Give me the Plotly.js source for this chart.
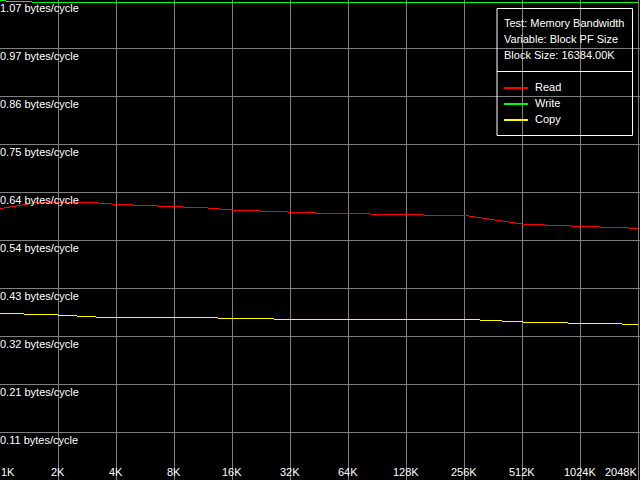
<!DOCTYPE html>
<html>
<head>
<meta charset="utf-8">
<script src="https://cdn.plot.ly/plotly-3.0.1.min.js"></script>
<style>
html,body{margin:0;padding:0;background:#000;}
#chart{width:640px;height:480px;}
#chart .scatterlayer path { shape-rendering: crispEdges; }
</style>
</head>
<body>
<div id="chart"></div>
<script>
// Block sizes in KB
var sizesKB = [1,1.5,2,3,4,6,8,12,16,24,32,48,64,96,128,192,256,384,512,768,1024,1536,2048];
// Bandwidth (bytes/cycle)
var readVals  = [0.6067,0.6195,0.6211,0.6204,0.6166,0.6139,0.6117,0.6083,0.6038,0.6009,0.5982,0.5965,0.5958,0.5942,0.5922,0.5920,0.5920,0.5810,0.5725,0.5692,0.5674,0.5651,0.5629];
var writeVals = [1.0718,1.0688,1.0688,1.0688,1.0688,1.0688,1.0688,1.0688,1.0688,1.0688,1.0688,1.0688,1.0688,1.0688,1.0688,1.0688,1.0688,1.0688,1.0688,1.0688,1.0688,1.0688,1.0688];
var copyVals  = [0.3728,0.3706,0.3690,0.3650,0.3623,0.3634,0.3639,0.3627,0.3616,0.3601,0.3594,0.3594,0.3594,0.3594,0.3594,0.3594,0.3594,0.3560,0.3534,0.3516,0.3505,0.3489,0.3482];
// Tick labels
var xTickVals = [1,2,4,8,16,32,64,128,256,512,1024,2048];
var xTickText = ['1K','2K','4K','8K','16K','32K','64K','128K','256K','512K','1024K','2048K'];
var yTickVals = [0.10735,0.2147,0.32205,0.4294,0.53675,0.6441,0.75145,0.8588,0.96615,1.0735];
var yTickText = ['0.11','0.21','0.32','0.43','0.54','0.64','0.75','0.86','0.97','1.07'];
var yUnit = ' bytes/cycle';
var seriesNames = ['Read','Write','Copy'];
var seriesColors = ['#ff0000','#00ff00','#ffff00'];
var headerLines = ['Test: Memory Bandwidth','Variable: Block PF Size','Block Size: 16384.00K'];

var W = 640, H = 480;
function px(x){return x/W;}
function py(y){return 1 - y/H;}
var FONT = {family:'Liberation Sans, Arial, sans-serif', size:11, color:'#ffffff'};

var seriesVals = [readVals, writeVals, copyVals];
var traces = seriesVals.map(function(v,i){
  return {x:sizesKB, y:v, type:'scatter', mode:'lines', name:seriesNames[i],
          line:{color:seriesColors[i], width:1}, hoverinfo:'skip'};
});

var annotations = [];
var shapes = [];
// y labels
yTickVals.forEach(function(v,i){
  annotations.push({xref:'paper', yref:'y', x:0, y:v, xanchor:'left', yanchor:'top',
    text:yTickText[i]+yUnit, showarrow:false, font:FONT, xshift:-1, yshift:-1, borderpad:0});
});
// x labels
xTickVals.forEach(function(v,i){
  var anchor = i===0 ? 'left' : (i===xTickVals.length-1 ? 'right' : 'center');
  annotations.push({xref:'x', yref:'paper', x:Math.log10(v), y:0, xanchor:anchor, yanchor:'bottom',
    text:xTickText[i], showarrow:false, font:FONT, yshift:1, borderpad:0});
});
// legend box
shapes.push({type:'rect', xref:'paper', yref:'paper', x0:px(497), x1:px(632.5), y0:py(8.5), y1:py(135.5),
  line:{color:'#ffffff', width:1}, fillcolor:'rgba(0,0,0,0)', layer:'above'});
shapes.push({type:'line', xref:'paper', yref:'paper', x0:px(497), x1:px(632.5), y0:py(71.5), y1:py(71.5),
  line:{color:'#ffffff', width:1}, layer:'above'});
var headerY = [23.3, 39.3, 55.3];
headerLines.forEach(function(t,i){
  annotations.push({xref:'paper', yref:'paper', x:px(503), y:py(headerY[i]), xanchor:'left', yanchor:'middle',
    text:t, showarrow:false, font:FONT, borderpad:0});
});
var itemY = [87.5, 103.5, 119.5];
seriesNames.forEach(function(n,i){
  shapes.push({type:'line', xref:'paper', yref:'paper', x0:px(504), x1:px(528), y0:py(itemY[i]+0.5), y1:py(itemY[i]+0.5),
    line:{color:seriesColors[i], width:2}, layer:'above'});
  annotations.push({xref:'paper', yref:'paper', x:px(534), y:py(itemY[i]-0.2), xanchor:'left', yanchor:'middle',
    text:n, showarrow:false, font:FONT, borderpad:0});
});

var layout = {
  width:W, height:H,
  margin:{l:0,r:0,t:0,b:0,pad:0},
  paper_bgcolor:'#000000', plot_bgcolor:'#000000',
  showlegend:false,
  font:FONT,
  xaxis:{type:'log', range:[0, Math.log10(2048)+Math.log10(2)*(2/58)], tickvals:xTickVals,
         showticklabels:false, ticks:'', showgrid:true, gridcolor:'#808080', gridwidth:1,
         zeroline:false, showline:false, fixedrange:true},
  yaxis:{range:[0,1.0735], tickvals:yTickVals, showticklabels:false, ticks:'',
         showgrid:true, gridcolor:'#808080', gridwidth:1, zeroline:false, showline:false, fixedrange:true},
  annotations:annotations,
  shapes:shapes
};

Plotly.newPlot('chart', traces, layout, {staticPlot:true, displayModeBar:false});
</script>
</body>
</html>
